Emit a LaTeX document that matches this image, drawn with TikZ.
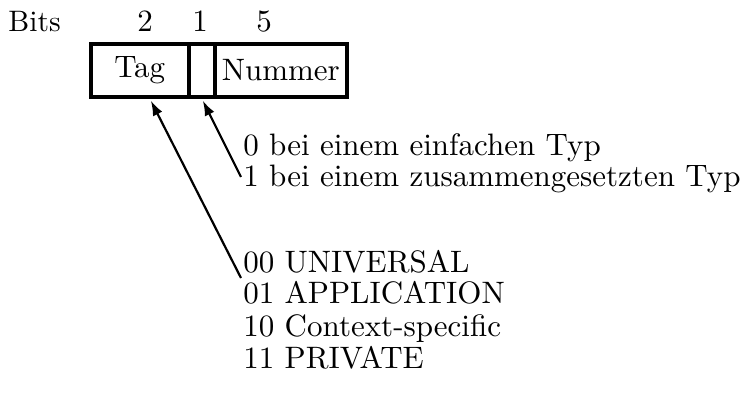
\documentclass[tikz,border=0pt]{standalone}
\usepackage{fontspec}
\setmainfont{lmroman10-regular}[Extension=.otf]
\usetikzlibrary{arrows.meta,calc}
\begin{document}
\begin{tikzpicture}[x=0.5pt,y=-0.5pt,
  basefont/.style={font=\fontsize{15.5}{18}\selectfont},
  txt/.style={basefont,inner sep=0pt,anchor=base west},
  num/.style={basefont,inner sep=0pt,anchor=base},
  cell/.style={basefont,draw,line width=1.8pt,inner sep=0pt,minimum height=26.5pt,anchor=north west},
  pointer/.style={line width=1.1pt,-{Latex[length=7.5pt,width=5.2pt]}}]
  \useasboundingbox (0,0) rectangle (748,400);

  % header row: bit widths of the three fields
  \node[txt,font=\fontsize{14.8}{17}\selectfont] (bits) at (8,32) {Bits};
  \node[num] (w2) at (145,32) {2};
  \node[num] (w1) at (200,32) {1};
  \node[num] (w5) at (264,32) {5};

  % the identifier octet
  \node[cell,minimum width=49pt] (tag) at (89,42) {Tag};
  \node[cell,minimum width=13pt] (pc) at (187,42) {};
  \node[cell,minimum width=66pt] (nr) at (213,42) {Nummer};

  % explanations
  \node[txt] (p0) at (243,156) {0 bei einem einfachen Typ};
  \node[txt] (p1) at (243,187) {1 bei einem zusammengesetzten Typ};
  \node[txt] (c0) at (243,272) {00 UNIVERSAL};
  \node[txt] (c1) at (243,304) {01 APPLICATION};
  \node[txt] (c2) at (243,336) {10 Context-specific};
  \node[txt] (c3) at (243,368) {11 PRIVATE};

  % pointers from the explanations to their fields
  \coordinate (pcend) at ($(p1.base west)+(-2,-10)$);
  \coordinate (tagend) at ($(c0.base west)+(-2,6)$);
  \draw[pointer] (pcend) -- ($(pc.south)+(1,2)$);
  \draw[pointer] (tagend) -- ($(tag.south)+(11,2)$);
\end{tikzpicture}
\end{document}
